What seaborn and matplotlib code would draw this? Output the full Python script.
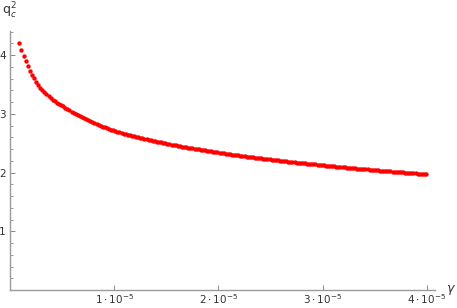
import matplotlib
matplotlib.use('Agg')
import matplotlib.pyplot as plt
import seaborn as sns
from matplotlib.ticker import MultipleLocator

# gamma in units of 1e-5
gamma = [
    0.09, 0.11, 0.13, 0.15, 0.17, 0.19, 0.21, 0.23, 0.25, 0.27,
    0.29, 0.31, 0.33, 0.35, 0.37, 0.39, 0.41, 0.43, 0.45, 0.47,
    0.49, 0.51, 0.53, 0.55, 0.57, 0.59, 0.61, 0.63, 0.65, 0.67,
    0.69, 0.71, 0.73, 0.75, 0.77, 0.79, 0.81, 0.83, 0.85, 0.87,
    0.89, 0.91, 0.93, 0.95, 0.97, 0.99, 1.01, 1.03, 1.05, 1.07,
    1.09, 1.11, 1.13, 1.15, 1.17, 1.19, 1.21, 1.23, 1.25, 1.27,
    1.29, 1.31, 1.33, 1.35, 1.37, 1.39, 1.41, 1.43, 1.45, 1.47,
    1.49, 1.51, 1.53, 1.55, 1.57, 1.59, 1.61, 1.63, 1.65, 1.67,
    1.69, 1.71, 1.73, 1.75, 1.77, 1.79, 1.81, 1.83, 1.85, 1.87,
    1.89, 1.91, 1.93, 1.95, 1.97, 1.99, 2.01, 2.03, 2.05, 2.07,
    2.09, 2.11, 2.13, 2.15, 2.17, 2.19, 2.21, 2.23, 2.25, 2.27,
    2.29, 2.31, 2.33, 2.35, 2.37, 2.39, 2.41, 2.43, 2.45, 2.47,
    2.49, 2.51, 2.53, 2.55, 2.57, 2.59, 2.61, 2.63, 2.65, 2.67,
    2.69, 2.71, 2.73, 2.75, 2.77, 2.79, 2.81, 2.83, 2.85, 2.87,
    2.89, 2.91, 2.93, 2.95, 2.97, 2.99, 3.01, 3.03, 3.05, 3.07,
    3.09, 3.11, 3.13, 3.15, 3.17, 3.19, 3.21, 3.23, 3.25, 3.27,
    3.29, 3.31, 3.33, 3.35, 3.37, 3.39, 3.41, 3.43, 3.45, 3.47,
    3.49, 3.51, 3.53, 3.55, 3.57, 3.59, 3.61, 3.63, 3.65, 3.67,
    3.69, 3.71, 3.73, 3.75, 3.77, 3.79, 3.81, 3.83, 3.85, 3.87,
    3.89, 3.91, 3.93, 3.95, 3.97, 3.99,
]

qc2 = [
    4.210, 4.085, 3.981, 3.892, 3.814, 3.735, 3.668, 3.606, 3.549, 3.496,
    3.447, 3.405, 3.366, 3.330, 3.295, 3.267, 3.236, 3.211, 3.188, 3.166,
    3.145, 3.125, 3.106, 3.083, 3.061, 3.039, 3.019, 2.998, 2.979, 2.960,
    2.942, 2.924, 2.907, 2.890, 2.873, 2.857, 2.842, 2.827, 2.812, 2.797,
    2.783, 2.769, 2.756, 2.742, 2.729, 2.717, 2.705, 2.694, 2.684, 2.674,
    2.664, 2.654, 2.645, 2.635, 2.626, 2.617, 2.608, 2.599, 2.591, 2.582,
    2.574, 2.566, 2.558, 2.550, 2.542, 2.534, 2.527, 2.519, 2.512, 2.505,
    2.497, 2.490, 2.483, 2.476, 2.469, 2.462, 2.456, 2.449, 2.443, 2.436,
    2.430, 2.424, 2.417, 2.411, 2.405, 2.399, 2.393, 2.387, 2.382, 2.376,
    2.370, 2.365, 2.359, 2.353, 2.348, 2.343, 2.337, 2.332, 2.327, 2.321,
    2.316, 2.311, 2.306, 2.301, 2.296, 2.291, 2.287, 2.282, 2.277, 2.273,
    2.268, 2.263, 2.259, 2.254, 2.250, 2.245, 2.241, 2.236, 2.232, 2.228,
    2.223, 2.219, 2.215, 2.211, 2.207, 2.202, 2.198, 2.194, 2.190, 2.186,
    2.182, 2.178, 2.174, 2.170, 2.166, 2.163, 2.159, 2.155, 2.151, 2.148,
    2.144, 2.140, 2.137, 2.133, 2.129, 2.126, 2.122, 2.118, 2.115, 2.111,
    2.108, 2.105, 2.101, 2.098, 2.094, 2.091, 2.088, 2.084, 2.081, 2.078,
    2.075, 2.071, 2.068, 2.065, 2.062, 2.059, 2.056, 2.052, 2.049, 2.046,
    2.043, 2.039, 2.036, 2.033, 2.030, 2.027, 2.024, 2.021, 2.018, 2.015,
    2.012, 2.009, 2.006, 2.004, 2.001, 1.998, 1.995, 1.992, 1.990, 1.987,
    1.984, 1.981, 1.979, 1.976, 1.973, 1.970,
]

x_ticks = [1, 2, 3, 4]
x_tick_labels = [r'$1\cdot10^{-5}$', r'$2\cdot10^{-5}$', r'$3\cdot10^{-5}$', r'$4\cdot10^{-5}$']
y_ticks = [1, 2, 3, 4]

sns.set_style('white')
plt.rcParams['font.family'] = ['DejaVu Sans']
plt.rcParams['mathtext.fontset'] = 'dejavusans'

fig = plt.figure(figsize=(4.57, 3.08), dpi=100)
ax = fig.add_axes([10 / 457, 18 / 308, 425 / 457, 259 / 308])

sns.scatterplot(x=gamma, y=qc2, ax=ax, color='red', s=10, linewidth=0, legend=False)

ax.set_xlim(0, 4.077)
ax.set_ylim(0, 4.41)
ax.set_xticks(x_ticks)
ax.set_xticklabels(x_tick_labels)
ax.set_yticks(y_ticks)
ax.yaxis.set_minor_locator(MultipleLocator(0.2))

for side in ['top', 'right']:
    ax.spines[side].set_visible(False)
for side in ['left', 'bottom']:
    ax.spines[side].set_color('#9a9a9a')
    ax.spines[side].set_linewidth(1.0)

ax.tick_params(which='major', direction='in', bottom=True, left=True, length=3.5, width=0.7,
               color='#8a8a8a', labelcolor='#333333', labelsize=7.5)
ax.tick_params(axis='y', which='major', pad=3)
ax.tick_params(axis='x', which='major', pad=1.5)
ax.tick_params(which='minor', direction='in', left=True, length=2.2, width=0.6, color='#8a8a8a')
ax.set_xlabel('')
ax.set_ylabel('')

fig.text(2 / 457, 1 - 1 / 308, r'$\mathrm{q}_c^2$', ha='left', va='top', fontsize=9, color='#333333')
fig.text(451 / 457, 1 - 290 / 308, r'$\gamma$', ha='center', va='center', fontsize=9, color='#333333')

fig.savefig('out.png', dpi=100)
